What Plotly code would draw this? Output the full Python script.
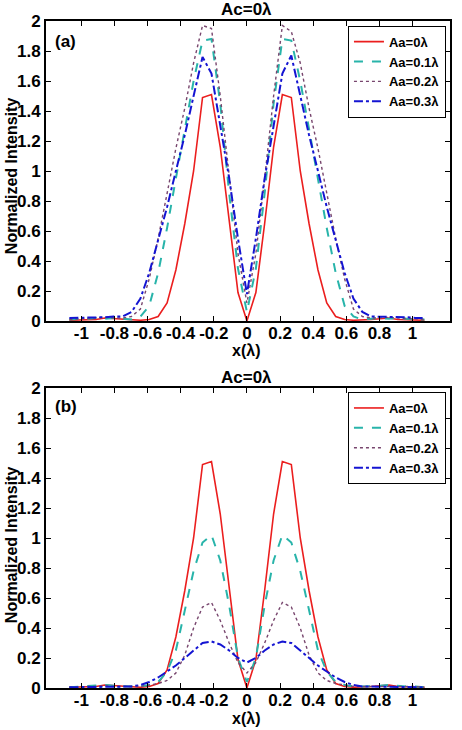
import plotly.graph_objects as go

# x grid (λ)
x = [-1.072, -1.018, -0.965, -0.911, -0.858, -0.804, -0.750, -0.697, -0.643, -0.590, -0.536,
     -0.482, -0.429, -0.375, -0.322, -0.268, -0.214, -0.161, -0.107, -0.054, 0.0,
     0.054, 0.107, 0.161, 0.214, 0.268, 0.322, 0.375, 0.429, 0.482, 0.536,
     0.590, 0.643, 0.697, 0.750, 0.804, 0.858, 0.911, 0.965, 1.018, 1.072]

# panel (a)
a_aa0 = [0.005, 0.005, 0.01, 0.01, 0.02, 0.015, 0.01, 0.005, 0.005, 0.01, 0.03,
         0.12, 0.34, 0.65, 1.0, 1.49, 1.51, 1.16, 0.65, 0.19, 0.0,
         0.19, 0.65, 1.16, 1.51, 1.49, 1.0, 0.65, 0.34, 0.12, 0.03,
         0.01, 0.005, 0.005, 0.01, 0.015, 0.02, 0.01, 0.01, 0.005, 0.005]
a_aa1 = [0.01, 0.01, 0.015, 0.02, 0.015, 0.02, 0.015, 0.01, 0.03, 0.1, 0.32,
         0.62, 0.95, 1.28, 1.6, 1.87, 1.88, 1.45, 0.85, 0.35, 0.06,
         0.35, 0.85, 1.45, 1.88, 1.87, 1.6, 1.28, 0.95, 0.62, 0.32,
         0.1, 0.03, 0.01, 0.015, 0.02, 0.015, 0.02, 0.015, 0.01, 0.01]
a_aa2 = [0.01, 0.015, 0.02, 0.02, 0.025, 0.02, 0.02, 0.03, 0.08, 0.28, 0.55,
         0.85, 1.15, 1.42, 1.72, 1.97, 1.95, 1.5, 0.95, 0.45, 0.12,
         0.45, 0.95, 1.5, 1.97, 1.93, 1.72, 1.42, 1.15, 0.85, 0.55,
         0.28, 0.08, 0.03, 0.02, 0.02, 0.025, 0.02, 0.02, 0.015, 0.01]
a_aa3 = [0.02, 0.02, 0.025, 0.025, 0.025, 0.03, 0.03, 0.06, 0.15, 0.32, 0.54,
         0.76, 1.0, 1.24, 1.5, 1.76, 1.65, 1.3, 0.95, 0.55, 0.18,
         0.55, 0.95, 1.3, 1.65, 1.77, 1.5, 1.24, 1.0, 0.76, 0.54,
         0.32, 0.15, 0.06, 0.03, 0.03, 0.025, 0.025, 0.025, 0.02, 0.02]

# panel (b)
b_aa0 = a_aa0
b_aa1 = [0.005, 0.01, 0.01, 0.015, 0.02, 0.015, 0.01, 0.01, 0.01, 0.02, 0.04,
         0.11, 0.25, 0.52, 0.78, 0.97, 1.02, 0.85, 0.55, 0.2, 0.04,
         0.2, 0.55, 0.85, 1.02, 0.97, 0.78, 0.52, 0.25, 0.11, 0.04,
         0.02, 0.01, 0.01, 0.01, 0.015, 0.02, 0.015, 0.01, 0.01, 0.005]
b_aa2 = [0.005, 0.01, 0.01, 0.01, 0.015, 0.01, 0.01, 0.01, 0.01, 0.02, 0.03,
         0.05, 0.1, 0.22, 0.4, 0.54, 0.57, 0.45, 0.3, 0.17, 0.1,
         0.17, 0.3, 0.45, 0.57, 0.54, 0.4, 0.22, 0.1, 0.05, 0.03,
         0.02, 0.01, 0.01, 0.01, 0.01, 0.015, 0.01, 0.01, 0.01, 0.005]
b_aa3 = [0.005, 0.005, 0.01, 0.01, 0.01, 0.01, 0.01, 0.01, 0.02, 0.04, 0.07,
         0.11, 0.15, 0.2, 0.25, 0.3, 0.31, 0.29, 0.25, 0.2, 0.17,
         0.2, 0.25, 0.29, 0.31, 0.3, 0.25, 0.2, 0.15, 0.11, 0.07,
         0.04, 0.02, 0.01, 0.01, 0.01, 0.01, 0.01, 0.01, 0.005, 0.005]

names = ["Aa=0λ", "Aa=0.1λ", "Aa=0.2λ", "Aa=0.3λ"]
colors = ["rgb(235,30,30)", "rgb(40,180,170)", "rgb(120,70,110)", "rgb(20,20,210)"]
dashes = ["solid", "dash", "dot", "dashdot"]
widths = [1.6, 2.0, 1.4, 2.0]
x_ticks = [-1, -0.8, -0.6, -0.4, -0.2, 0, 0.2, 0.4, 0.6, 0.8, 1]
x_ticktext = ["-1", "-0.8", "-0.6", "-0.4", "-0.2", "0", "0.2", "0.4", "0.6", "0.8", "1"]
y_ticks = [0, 0.2, 0.4, 0.6, 0.8, 1, 1.2, 1.4, 1.6, 1.8, 2]
y_ticktext = ["0", "0.2", "0.4", "0.6", "0.8", "1", "1.2", "1.4", "1.6", "1.8", "2"]

FONT = "Liberation Sans"
fig = go.Figure()

for i, ys in enumerate([a_aa0, a_aa1, a_aa2, a_aa3]):
    fig.add_trace(go.Scatter(x=x, y=ys, mode="lines", name=names[i],
                             line=dict(color=colors[i], dash=dashes[i], width=widths[i]),
                             xaxis="x", yaxis="y", legend="legend"))
for i, ys in enumerate([b_aa0, b_aa1, b_aa2, b_aa3]):
    fig.add_trace(go.Scatter(x=x, y=ys, mode="lines", name=names[i],
                             line=dict(color=colors[i], dash=dashes[i], width=widths[i]),
                             xaxis="x2", yaxis="y2", legend="legend2"))

H = 730
t, b = 21, 42
ph = H - t - b
d1 = [(688 - 321) / ph, 1.0]
d2 = [0.0, (688 - 388) / ph]

axis_common = dict(showline=True, linecolor="black", linewidth=2, mirror="ticks",
                   ticks="inside", ticklen=5, tickwidth=1, tickcolor="black",
                   showgrid=False, zeroline=False,
                   tickfont=dict(family=FONT, size=17, color="black", weight="bold"))

xr = [-1.213, 1.226]
leg_font = dict(family=FONT, size=13, color="black", weight="bold")
fig.update_layout(
    width=462, height=730,
    margin=dict(l=46, r=10, t=t, b=b),
    paper_bgcolor="white", plot_bgcolor="white",
    font=dict(family=FONT, color="black"),
    xaxis=dict(domain=[0, 1], anchor="y", range=xr, tickvals=x_ticks, ticktext=x_ticktext,
               ticklabelstandoff=-4, **axis_common),
    yaxis=dict(domain=d1, anchor="x", range=[0, 2], tickvals=y_ticks, ticktext=y_ticktext, **axis_common),
    xaxis2=dict(domain=[0, 1], anchor="y2", range=xr, tickvals=x_ticks, ticktext=x_ticktext,
                ticklabelstandoff=-4, **axis_common),
    yaxis2=dict(domain=d2, anchor="x2", range=[0, 2], tickvals=y_ticks, ticktext=y_ticktext, **axis_common),
    legend=dict(x=0.99, y=0.993, xanchor="right", yanchor="top",
                bgcolor="white", bordercolor="black", borderwidth=1,
                font=leg_font, tracegroupgap=0, itemwidth=30),
    legend2=dict(x=0.99, y=d2[1] - 0.006, xanchor="right", yanchor="top",
                 bgcolor="white", bordercolor="black", borderwidth=1,
                 font=leg_font, tracegroupgap=0, itemwidth=30),
)

ann_font = dict(family=FONT, size=17, color="black", weight="bold")
xl_font = dict(family=FONT, size=16, color="black", weight="bold")
lab_font = dict(family=FONT, size=16, color="black", weight="bold")
anns = [
    dict(text="Ac=0λ", x=247, y=H - 10, font=ann_font),
    dict(text="Ac=0λ", x=247, y=H - 377, font=ann_font),
    dict(text="x(λ)", x=247, y=H - 351, font=xl_font),
    dict(text="x(λ)", x=247, y=H - 718, font=xl_font),
    dict(text="(a)", x=66, y=H - 41, font=ann_font),
    dict(text="(b)", x=66, y=H - 407, font=ann_font),
    dict(text="Normalized Intensity", x=11, y=H - 176, font=lab_font, textangle=-90),
    dict(text="Normalized Intensity", x=11, y=H - 545, font=lab_font, textangle=-90),
]
for a in anns:
    fig.add_annotation(text=a["text"], xref="paper", yref="paper",
                       x=(a["x"] - 46) / (462 - 56), y=(a["y"] - b) / ph,
                       showarrow=False, xanchor="center", yanchor="middle",
                       font=a["font"], textangle=a.get("textangle", 0))

fig.write_html("out.html")
